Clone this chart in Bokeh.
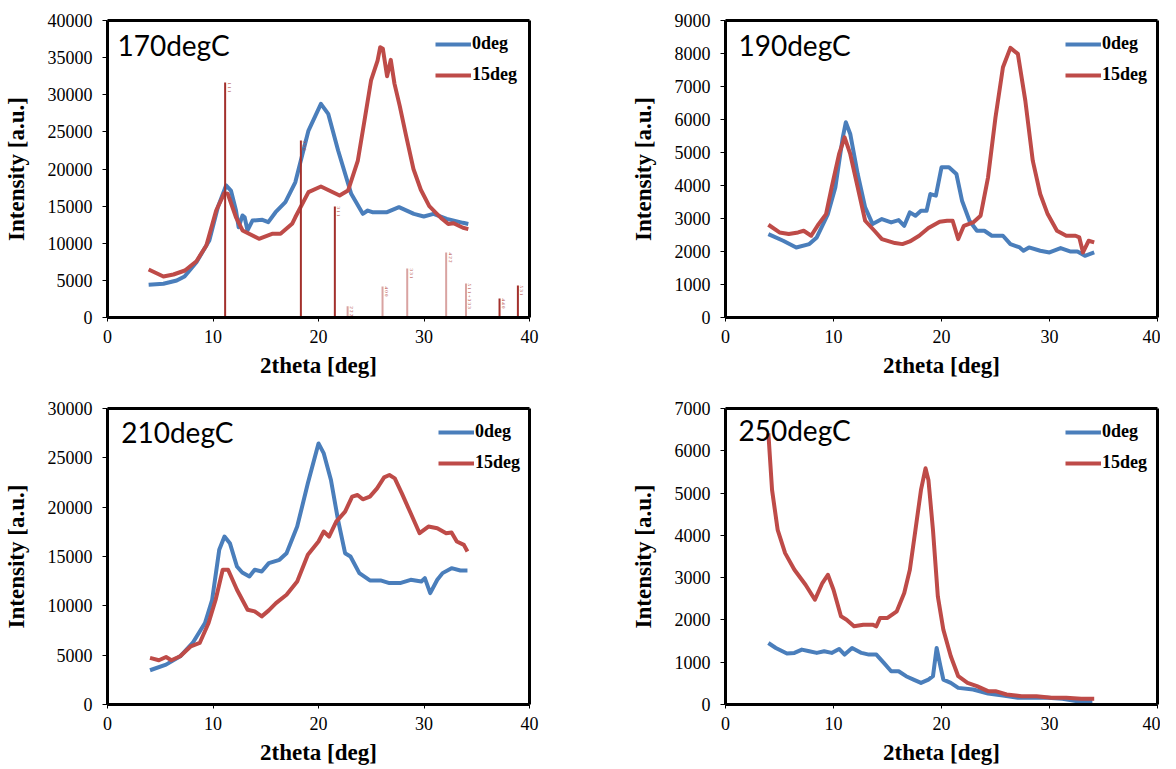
from bokeh.plotting import figure
from bokeh.layouts import column, row
from bokeh.models import Range1d, FixedTicker, Label, Legend, LegendItem, BasicTickFormatter, LinearAxis
from bokeh.embed import file_html
from bokeh.resources import INLINE
from bokeh.core.properties import value

# ---------------- data ----------------
titles = ["170degC", "190degC", "210degC", "250degC"]
series_names = ["0deg", "15deg"]
x_ticks = [0, 10, 20, 30, 40]
x_max = 40
y_max = [40000, 9000, 30000, 7000]
y_step = [5000, 1000, 5000, 1000]

# 170degC
x170_0 = [3.9, 5.3, 6.56, 7.3, 8.43, 9.65, 10.46, 11.24, 11.7, 12.18, 12.43, 12.8, 13.0, 13.27, 13.74,
          14.68, 15.24, 15.93, 16.86, 17.8, 19.05, 20.23, 20.92, 21.86, 23.1, 24.2, 24.67, 25.1, 26.5,
          27.63, 29.04, 29.98, 30.9, 32.16, 33.7, 34.2]
y170_0 = [4400, 4540, 4980, 5520, 7450, 10370, 14860, 17780, 17100, 14400, 12160, 13740, 13500, 11720, 13060,
          13160, 12840, 14180, 15530, 18200, 25180, 28780, 27430, 22490, 16660, 13960, 14410, 14180, 14180,
          14860, 13960, 13600, 13960, 13290, 12750, 12600]
x170_15 = [3.9, 5.3, 6.25, 7.34, 8.43, 9.37, 10.3, 11.08, 11.4, 12.18, 12.8, 14.36, 15.6, 16.4, 17.5,
           17.8, 19.05, 20.23, 22.0, 22.8, 23.73, 24.36, 24.98, 25.6, 25.85, 26.1, 26.5, 26.85, 27.2,
           27.7, 28.3, 29.0, 29.7, 30.5, 31.2, 31.7, 32.3, 32.8, 33.7, 34.2]
y170_15 = [6460, 5520, 5790, 6330, 7580, 9700, 14410, 16740, 16660, 13500, 11720, 10600, 11270, 11270, 12620,
           13500, 16880, 17640, 16430, 17100, 21140, 26530, 31920, 34610, 36400, 36200, 32500, 34700, 31500,
           28500, 24500, 20000, 17200, 15000, 14000, 13300, 12600, 12700, 12080, 11900]
# reference stick pattern (170degC panel)
stick_x = [11.15, 18.33, 21.55, 22.76, 26.07, 28.41, 32.10, 33.98, 37.16, 38.90]
stick_h = [31650, 23840, 14950, 1500, 4175, 6600, 8750, 4580, 2560, 4310]
stick_hkl = ["1 1 1", "2 2 0", "3 1 1", "2 2 2", "4 0 0", "3 3 1", "4 2 2", "5 1 1 + 3 3 3", "4 4 0", "5 3 1"]
stick_dark = [True, True, True, False, False, False, False, False, True, True]

# 190degC
x190_0 = [3.97, 5.34, 6.55, 7.76, 8.45, 9.48, 10.17, 10.86, 11.14, 11.55, 12.24, 12.93, 13.62, 14.48, 15.34,
          16.03, 16.55, 17.07, 17.59, 18.1, 18.62, 18.97, 19.48, 20.0, 20.69, 21.38, 21.9, 22.59, 23.28,
          23.97, 24.66, 25.69, 26.38, 27.24, 27.59, 28.1, 29.14, 30.0, 31.03, 31.9, 32.59, 33.28, 34.14]
y190_0 = [2528, 2325, 2123, 2224, 2427, 3134, 3943, 5460, 5915, 5561, 4348, 3337, 2831, 2983, 2882,
          2952, 2780, 3185, 3084, 3236, 3236, 3741, 3691, 4550, 4550, 4348, 3539, 2932, 2629,
          2629, 2477, 2477, 2224, 2123, 2022, 2123, 2022, 1972, 2103, 2002, 2002, 1870, 1972]
x190_15 = [3.97, 5.0, 5.86, 6.72, 7.24, 7.93, 8.62, 9.31, 9.83, 10.52, 11.03, 11.55, 12.24, 12.93, 13.79,
           14.48, 15.69, 16.38, 17.07, 17.93, 18.79, 19.83, 20.52, 21.03, 21.55, 22.07, 22.93, 23.62, 24.31,
           25.0, 25.69, 26.38, 27.07, 27.76, 28.45, 29.14, 29.83, 30.69, 31.55, 32.41, 32.76, 33.1, 33.62, 34.14]
y190_15 = [2811, 2578, 2528, 2578, 2629, 2477, 2831, 3134, 3943, 4955, 5460, 4955, 3943, 2932, 2629,
           2376, 2255, 2224, 2305, 2477, 2710, 2902, 2932, 2932, 2376, 2780, 2882, 3084, 4247,
           6067, 7583, 8170, 7988, 6572, 4752, 3741, 3134, 2629, 2477, 2477, 2427, 1972, 2325, 2275]

# 210degC
x210_0 = [4.03, 5.55, 6.89, 8.07, 9.24, 9.92, 10.59, 11.09, 11.6, 12.27, 12.77, 13.45, 13.95, 14.62, 15.29,
          16.3, 16.97, 17.98, 18.99, 20.0, 20.5, 21.18, 21.85, 22.52, 23.03, 23.87, 24.87, 25.88, 26.72,
          27.73, 28.74, 29.75, 30.08, 30.59, 31.26, 31.76, 32.61, 33.45, 34.12]
y210_0 = [3472, 4044, 4887, 6235, 8258, 10617, 15673, 17022, 16348, 13989, 13382, 12977, 13651, 13483, 14326,
          14663, 15337, 18033, 22414, 26459, 25448, 22752, 18708, 15337, 15000, 13315, 12572, 12572, 12303,
          12303, 12640, 12472, 12808, 11291, 12640, 13315, 13820, 13584, 13584]
x210_15 = [4.03, 4.87, 5.55, 6.05, 6.89, 7.9, 8.74, 9.58, 10.25, 10.92, 11.43, 12.27, 13.28, 13.95, 14.62,
           15.29, 15.97, 16.97, 17.98, 18.99, 20.0, 20.5, 21.0, 21.68, 22.52, 23.19, 23.7, 24.2, 24.87,
           25.55, 26.22, 26.72, 27.23, 27.9, 28.74, 29.58, 30.42, 31.26, 32.1, 32.61, 33.11, 33.78, 34.12]
y210_15 = [4719, 4483, 4820, 4483, 4887, 5899, 6235, 8258, 10617, 13651, 13651, 11629, 9606, 9437, 8932,
           9539, 10281, 11123, 12472, 15168, 16517, 17528, 17022, 18539, 19550, 21066, 21235, 20798, 21066,
           21909, 23020, 23256, 22920, 21403, 19380, 17360, 18033, 17865, 17360, 17430, 16517, 16180, 15505]

# 250degC
x250_0 = [3.97, 4.66, 5.69, 6.38, 7.07, 7.76, 8.45, 9.14, 9.83, 10.52, 11.03, 11.72, 12.59, 13.28, 13.97,
          14.66, 15.34, 16.03, 16.72, 17.41, 18.1, 18.79, 19.21, 19.55, 19.9, 20.17, 20.86, 21.55, 22.93,
          24.31, 25.69, 27.07, 28.45, 29.83, 31.2, 32.59, 33.97]
y250_0 = [1455, 1337, 1204, 1220, 1298, 1259, 1220, 1259, 1220, 1314, 1180, 1337, 1220, 1180, 1180,
          983, 787, 787, 669, 590, 511, 590, 669, 1337, 905, 590, 511, 393, 354,
          260, 212, 157, 157, 157, 134, 79, 79]
x250_15 = [3.97, 4.31, 4.83, 5.52, 6.38, 7.41, 8.28, 8.97, 9.48, 10.0, 10.69, 11.21, 11.9, 12.76, 13.62,
           13.97, 14.31, 15.0, 15.86, 16.55, 17.07, 17.59, 18.1, 18.52, 18.79, 19.21, 19.66, 20.17, 20.86,
           21.55, 22.41, 23.28, 24.31, 25.0, 26.03, 27.41, 28.79, 30.17, 31.55, 32.93, 34.14]
y250_15 = [6412, 5075, 4131, 3580, 3186, 2832, 2478, 2872, 3068, 2714, 2085, 2006, 1849, 1888, 1888,
           1849, 2046, 2046, 2203, 2636, 3186, 4131, 5075, 5586, 5311, 4131, 2557, 1770, 1141,
           669, 511, 433, 315, 315, 236, 197, 197, 157, 157, 134, 134]

series_x = [(x170_0, x170_15), (x190_0, x190_15), (x210_0, x210_15), (x250_0, x250_15)]
series_y = [(y170_0, y170_15), (y190_0, y190_15), (y210_0, y210_15), (y250_0, y250_15)]

# ---------------- styling / layout ----------------
BLUE = "#4a7ebb"
RED = "#be4b48"
SERIF = "Liberation Serif"

# per panel: width, height, min borders (l, r, t, b), title x (data), title top fraction, legend x offset
layout_cfg = [
    dict(width=600, height=383, l=102, r=71, t=20, b=66, tx=0.94, tf=0.975, lx=328),
    dict(width=560, height=383, l=125, r=3, t=20, b=66, tx=1.2, tf=0.975, lx=340),
    dict(width=600, height=386, l=102, r=71, t=25, b=65, tx=1.3, tf=0.978, lx=331),
    dict(width=560, height=386, l=125, r=3, t=25, b=65, tx=1.2, tf=0.985, lx=340),
]


def frame_axis(**kw):
    # an unlabelled axis used only to draw the thick frame edge
    ax = LinearAxis(ticker=FixedTicker(ticks=[]), major_tick_out=0, major_tick_in=0,
                    minor_tick_out=0, minor_tick_in=0, major_label_standoff=0,
                    major_label_text_font_size="0px", axis_line_color="black",
                    axis_line_width=3, **kw)
    return ax


def make_panel(i):
    c = layout_cfg[i]
    ymax = y_max[i]
    p = figure(width=c["width"], height=c["height"],
               x_range=Range1d(0, x_max), y_range=Range1d(0, ymax),
               output_backend="svg", toolbar_location=None,
               min_border_left=c["l"], min_border_right=c["r"],
               min_border_top=c["t"], min_border_bottom=c["b"])
    p.xgrid.visible = False
    p.ygrid.visible = False
    p.background_fill_color = "white"
    p.border_fill_color = "white"
    p.outline_line_color = None

    p.xaxis.ticker = FixedTicker(ticks=x_ticks)
    p.yaxis.ticker = FixedTicker(ticks=list(range(0, ymax + 1, y_step[i])))
    p.yaxis.formatter = BasicTickFormatter(use_scientific=False)
    for ax in (p.xaxis, p.yaxis):
        ax.minor_tick_line_color = None
        ax.major_tick_in = 0
        ax.major_tick_out = 5
        ax.axis_line_color = "black"
        ax.axis_line_width = 3
        ax.major_tick_line_color = "black"
        ax.major_label_text_font = SERIF
        ax.major_label_text_font_size = "18px"
        ax.major_label_text_color = "black"
        ax.axis_label_text_font = SERIF
        ax.axis_label_text_font_style = "bold"
        ax.axis_label_text_font_size = "23px"
        ax.axis_label_text_color = "black"
    p.xaxis.major_tick_out = 4
    p.xaxis.major_label_standoff = 8
    p.xaxis.axis_label_standoff = 7
    p.yaxis.major_label_standoff = 10
    p.yaxis.axis_label_standoff = 16
    p.xaxis.axis_label = "2theta [deg]"
    p.yaxis.axis_label = "Intensity [a.u.]"

    # top and right frame edges
    p.add_layout(frame_axis(), "above")
    p.add_layout(frame_axis(), "right")

    xs0, xs15 = series_x[i]
    ys0, ys15 = series_y[i]
    r0 = p.line(xs0, ys0, line_color=BLUE, line_width=4, line_join="round")
    r15 = p.line(xs15, ys15, line_color=RED, line_width=4, line_join="round")

    if i == 0:
        for sx, sh, lab, dark in zip(stick_x, stick_h, stick_hkl, stick_dark):
            col = "#a3302c" if dark else "#d9a3a1"
            p.segment(x0=[sx], y0=[0], x1=[sx], y1=[sh], line_color=col, line_width=2)
            p.text(x=[sx], y=[sh], text=[lab], angle=-1.5708, x_offset=4,
                   text_align="left", text_baseline="middle",
                   text_font=value(SERIF), text_font_size="5px", text_color="#b03a36")

    fh = c["height"] - c["t"] - c["b"]
    legend = Legend(items=[LegendItem(label=series_names[0], renderers=[r0]),
                           LegendItem(label=series_names[1], renderers=[r15])],
                    location=(c["lx"], fh - 65), orientation="vertical",
                    padding=0, margin=0, spacing=10, glyph_width=36, glyph_height=20,
                    label_height=20, label_standoff=1,
                    label_text_font=SERIF, label_text_font_style="bold",
                    label_text_font_size="18px", label_text_color="black",
                    border_line_alpha=0, background_fill_alpha=0)
    p.add_layout(legend, "center")

    p.add_layout(Label(x=c["tx"], y=ymax * c["tf"], text=titles[i],
                       text_font="Lato", text_font_size="28px", text_color="black",
                       text_align="left", text_baseline="top"))
    return p


panels = [make_panel(i) for i in range(4)]
layout = column(row(panels[0], panels[1]), row(panels[2], panels[3]))

open("out.html", "w").write(file_html(layout, INLINE))
